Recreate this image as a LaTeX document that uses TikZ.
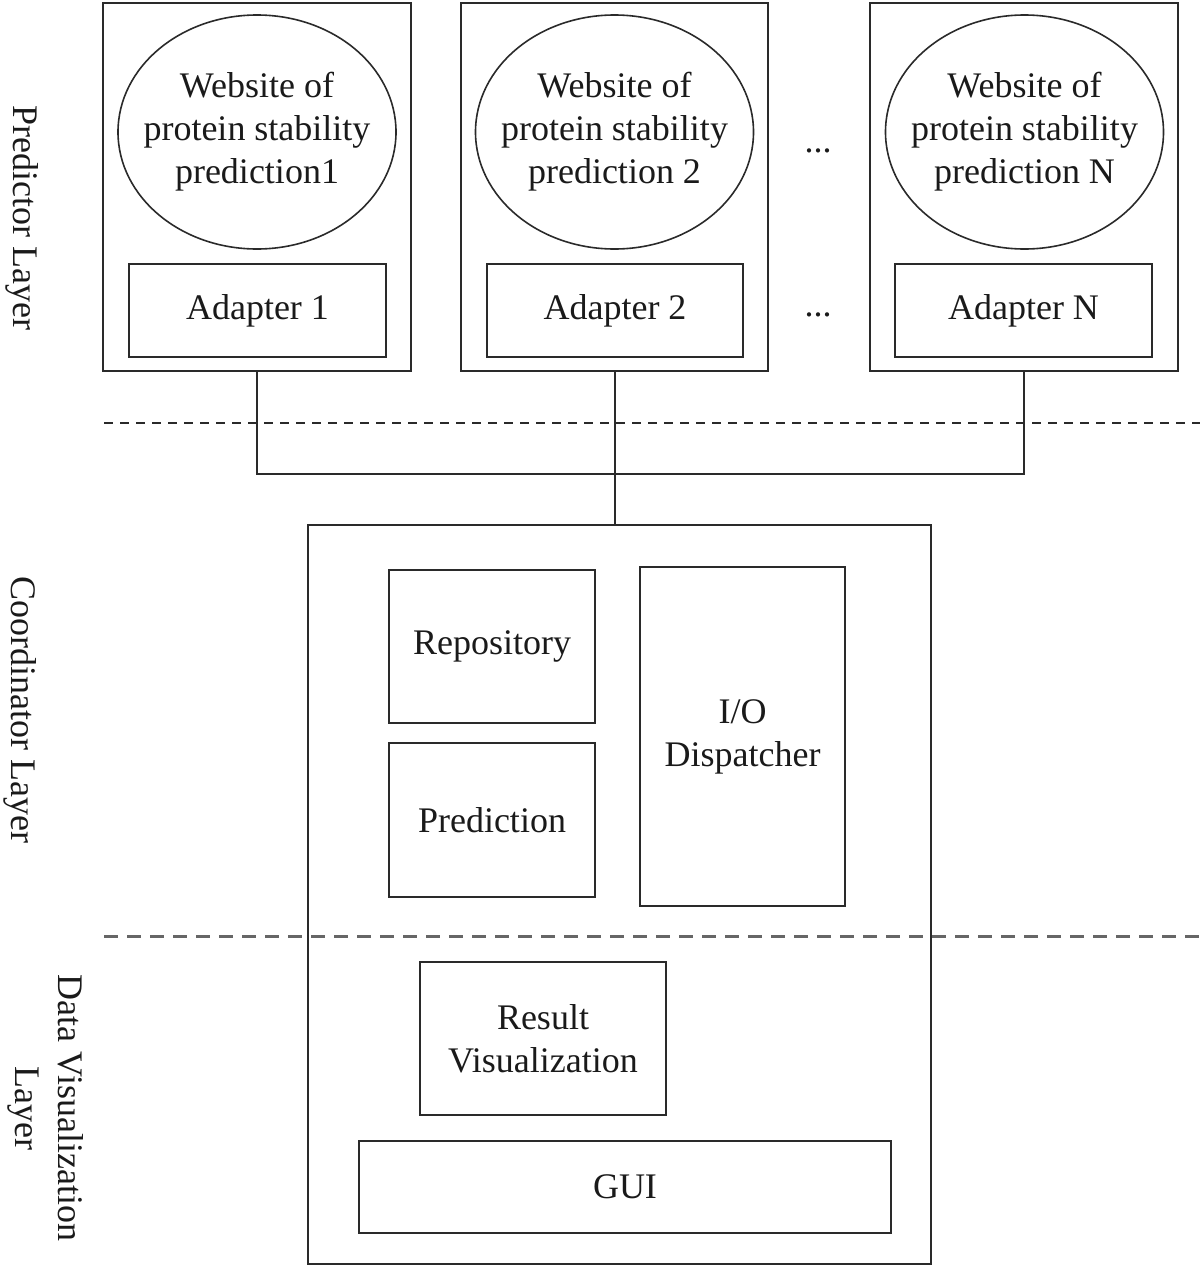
\documentclass[tikz,border=0pt]{standalone}
\usepackage{fontspec}
\setmainfont{Liberation Serif}
\usetikzlibrary{shapes.geometric}
\definecolor{ln}{HTML}{2A2A2A}
\definecolor{tx}{HTML}{1A1A1A}
\definecolor{dg}{HTML}{666666}
\begin{document}
\begin{tikzpicture}[x=1pt,y=-1pt,
  every node/.style={font=\fontsize{36}{43}\selectfont, text=tx, inner sep=0pt, outer sep=0pt},
  boxa/.style={draw=ln, line width=2pt, rectangle, align=center},
  ell/.style={draw=ln, line width=1.6pt, ellipse, minimum width=278pt, minimum height=234pt},
  conn/.style={draw=ln, line width=2pt},
  sepA/.style={draw=ln, line width=2pt, dash pattern=on 9pt off 7pt},
  sepB/.style={draw=dg, line width=3pt, dash pattern=on 14pt off 9pt},
  lay/.style={rotate=-90, align=center}]
\useasboundingbox (0,0) rectangle (1200,1266);
% predictor boxes
\node[boxa, minimum width=308pt, minimum height=368pt] (b1) at (257,187) {};
\node[boxa, minimum width=307pt, minimum height=368pt] (b2) at (614.5,187) {};
\node[boxa, minimum width=308pt, minimum height=368pt] (bN) at (1024,187) {};
\node[ell] (e1) at (257,132) {};
\node[ell] (e2) at (614.5,132) {};
\node[ell] (eN) at (1024.5,132) {};
\node[align=center] (t1) at (e1.center) {Website of\\protein stability\\prediction1};
\node[align=center] (t2) at (e2.center) {Website of\\protein stability\\prediction 2};
\node[align=center] (tN) at (eN.center) {Website of\\protein stability\\prediction N};
\node[boxa, minimum width=257pt, minimum height=93pt] (a1) at (257.5,310.5) {Adapter 1};
\node[boxa, minimum width=256pt, minimum height=93pt] (a2) at (615,310.5) {Adapter 2};
\node[boxa, minimum width=257pt, minimum height=93pt] (aN) at (1023.5,310.5) {Adapter N};
\node[anchor=base] (d1) at (818,152) {...};
\node[anchor=base] (d2) at (818,316) {...};
% separators
\coordinate (s1l) at (104,423);
\coordinate (s1r) at (1200,423);
\coordinate (s2l) at (104,936);
\coordinate (s2r) at (1200,936);
\draw[sepA] (s1l) -- (s1r);
% coordinator
\node[boxa, minimum width=623pt, minimum height=739pt] (co) at (619.5,894.5) {};
\coordinate (j) at (614.5,474);
\draw[conn] (b1.south) |- (j) -| (bN.south);
\draw[conn] (b2.south) -- (b2.south |- co.north);
\node[boxa, minimum width=206pt, minimum height=153pt] (rep) at (492,646.5) {Repository};
\node[boxa, minimum width=206pt, minimum height=154pt] (pred) at (492,820) {Prediction};
\node[boxa, minimum width=205pt, minimum height=339pt] (io) at (742.5,736.5) {I/O\\Dispatcher};
\draw[sepB] (s2l) -- (s2r);
\node[boxa, minimum width=246pt, minimum height=153pt] (res) at (543,1038.5) {Result\\Visualization};
\node[boxa, minimum width=532pt, minimum height=92pt] (gui) at (625,1187) {GUI};
% layer labels
\node[lay] (lp) at (22,218) {Predictor Layer};
\node[lay] (lc) at (20,710) {Coordinator Layer};
\node[lay] (ld) at (45.5,1108) {Data Visualization\\Layer};
\end{tikzpicture}
\end{document}
